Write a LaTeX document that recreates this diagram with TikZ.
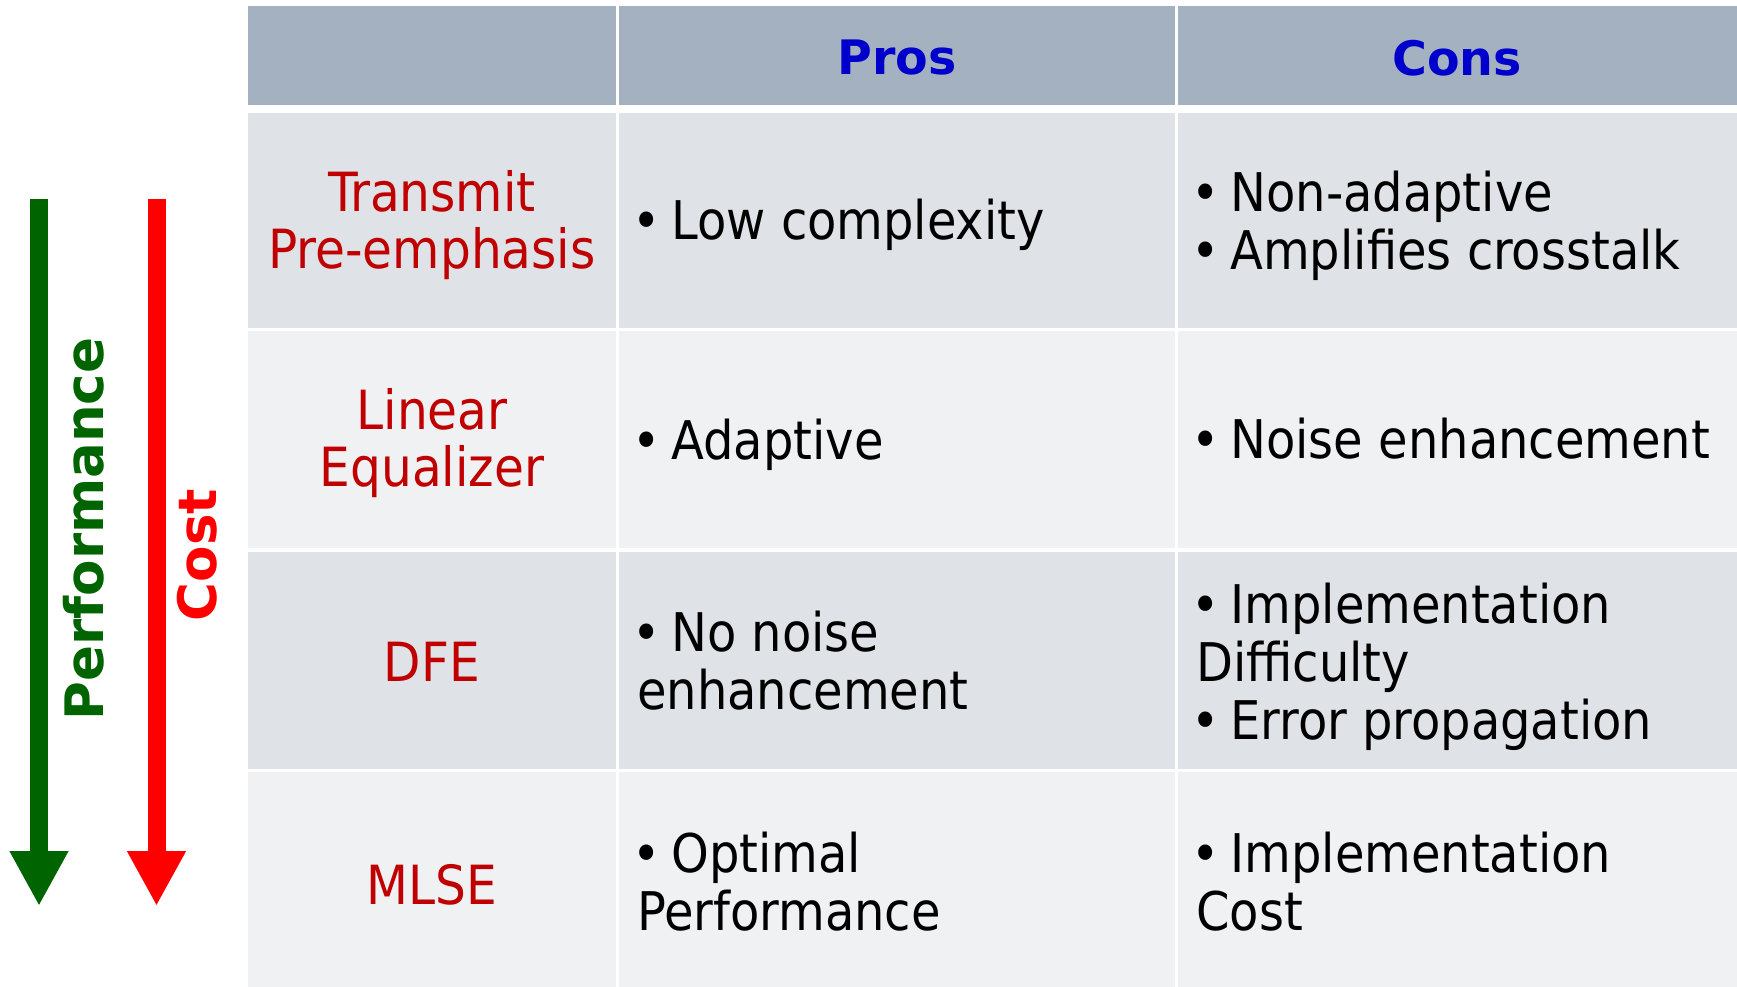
\documentclass[tikz,border=0pt]{standalone}
\usepackage{fontspec}
\setmainfont{DejaVu Sans Condensed}
\newfontfamily\widefont{DejaVu Sans}
\usetikzlibrary{arrows.meta}

\definecolor{hdrfill}{HTML}{A3B1C1}
\definecolor{rowdark}{HTML}{DFE2E7}
\definecolor{rowlight}{HTML}{F0F1F3}
\definecolor{labred}{HTML}{C00000}
\definecolor{hdrblue}{HTML}{0000CC}
\definecolor{perfgreen}{HTML}{006400}
\definecolor{costred}{HTML}{FF0000}

% bullet that hangs slightly left of the text margin
\newcommand\itm{\hspace*{-4.5pt}•\hspace{10.5pt}}

\begin{document}
\begin{tikzpicture}[x=1pt,y=-1pt,
  cell/.style={anchor=north west,inner sep=0pt,outer sep=0pt,draw=none},
  hdrtext/.style={font=\widefont\bfseries\fontsize{47.5}{52}\selectfont,text=hdrblue,inner sep=0pt},
  label/.style={font=\fontsize{54}{57.5}\selectfont,text=labred,align=center,inner sep=0pt},
  body/.style={font=\fontsize{53.3}{58}\selectfont,align=left,anchor=west,inner sep=0pt},
  axistext/.style={font=\widefont\bfseries\fontsize{53}{60}\selectfont,rotate=90,inner sep=0pt},
  bigarrow/.style={line width=18pt,-{Triangle[width=55pt,length=55pt]}}
]
\useasboundingbox (0,0) rectangle (1737,987);

% header row
\node[cell,fill=hdrfill,minimum width=368pt,minimum height=99pt] (h0) at (248,6) {};
\node[cell,fill=hdrfill,minimum width=556pt,minimum height=99pt] (h1) at (619,6) {};
\node[cell,fill=hdrfill,minimum width=559pt,minimum height=99pt] (h2) at (1178,6) {};

% body rows
\foreach \r/\top/\ht/\col in {1/113/215/rowdark,2/331/217/rowlight,3/552/217/rowdark,4/772/215/rowlight}{
  \node[cell,fill=\col,minimum width=368pt,minimum height=\ht pt] (c\r a) at (248,\top) {};
  \node[cell,fill=\col,minimum width=556pt,minimum height=\ht pt] (c\r b) at (619,\top) {};
  \node[cell,fill=\col,minimum width=559pt,minimum height=\ht pt] (c\r c) at (1178,\top) {};
}

% column headings
\node[hdrtext] (pros) at (897,58) {Pros};
\node[hdrtext] (cons) at (1457,58) {Cons};

% technique names
\node[label] (tpe)  at (432,225) {Transmit\\Pre-emphasis};
\node[label] (le)   at (432,443) {Linear\\Equalizer};
\node[label] (dfe)  at (432,662) {DFE};
\node[label] (mlse) at (432,885) {MLSE};

% pros
\node[body] (p1) at (637,225) {\itm Low complexity};
\node[body] (p2) at (637,445) {\itm Adaptive};
\node[body] (p3) at (637,661) {\itm No noise\\enhancement};
\node[body] (p4) at (637,882) {\itm Optimal\\Performance};

% cons
\node[body] (n1) at (1196,226) {\itm Non-adaptive\\\itm Amplifies crosstalk};
\node[body] (n2) at (1196,439) {\itm Noise enhancement};
\node[body] (n3) at (1196,667) {\itm Implementation\\Difficulty\\\itm Error propagation};
\node[body] (n4) at (1196,882) {\itm Implementation\\Cost};

% trend arrows
\coordinate (gtop) at (39,199);
\coordinate (gtip) at (39,906);
\coordinate (rtop) at (156.5,199);
\coordinate (rtip) at (156.5,906);
\draw[bigarrow,perfgreen] (gtop) -- (gtip);
\draw[bigarrow,costred] (rtop) -- (rtip);
\node[axistext,text=perfgreen] (perf) at (84,529) {Performance};
\node[axistext,text=costred] (cost) at (197,555) {Cost};
\end{tikzpicture}
\end{document}
